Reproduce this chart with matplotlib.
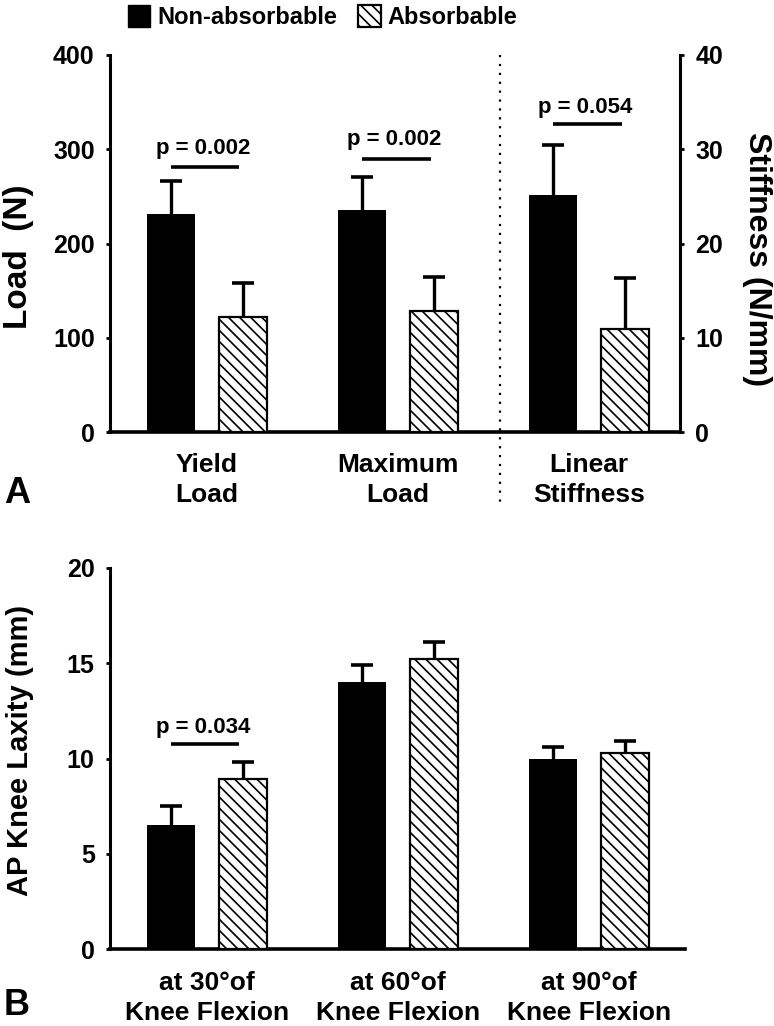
import numpy as np
import matplotlib
matplotlib.use("Agg")
import matplotlib.pyplot as plt
from matplotlib.patches import Patch

plt.rcParams['font.family'] = ['Liberation Sans', 'DejaVu Sans']
plt.rcParams['font.weight'] = 'bold'
plt.rcParams['hatch.linewidth'] = 1.2

# panel A: load (N) on left axis, stiffness (N/mm) on right axis
load_cats = ["Yield\nLoad", "Maximum\nLoad"]
load_nonabs = [231, 236]
load_nonabs_sd = [35, 35]
load_abs = [122, 128]
load_abs_sd = [36, 37]
load_p = ["p = 0.002", "p = 0.002"]
load_p_y = [281, 290]

stiff_cat = "Linear\nStiffness"
stiff_nonabs = 25.1
stiff_nonabs_sd = 5.4
stiff_abs = 10.9
stiff_abs_sd = 5.4
stiff_p = "p = 0.054"
stiff_p_y = 32.7

# panel B: AP knee laxity (mm)
lax_cats = ["at 30\u00b0of\nKnee Flexion", "at 60\u00b0of\nKnee Flexion",
            "at 90\u00b0of\nKnee Flexion"]
lax_nonabs = [6.5, 14.0, 10.0]
lax_nonabs_sd = [1.0, 0.9, 0.6]
lax_abs = [8.9, 15.2, 10.3]
lax_abs_sd = [0.9, 0.9, 0.6]
lax_p = "p = 0.034"
lax_p_y = 10.75

W = 0.25      # bar width
OFF = 0.19    # bar offset from group centre
HATCH = '\\\\\\'


def pair(ax, x, v1, e1, v2, e2):
    ax.bar(x - OFF, v1, W, color='black', edgecolor='black', linewidth=0, zorder=3)
    ax.bar(x + OFF, v2, W, color='white', edgecolor='black', linewidth=1.6,
           hatch=HATCH, zorder=3)
    xs = np.array([x - OFF, x + OFF], dtype=float)
    vs = np.array([v1, v2], dtype=float)
    es = np.array([e1, e2], dtype=float)
    eb = ax.errorbar(xs, vs, yerr=[np.zeros(2), es], fmt='none', ecolor='black',
                     elinewidth=2.4, capsize=8, capthick=2.6, zorder=2)
    # only the upper cap is drawn in the original
    eb[1][0].set_visible(False)


def pline(ax, x, y, text, dy):
    ax.plot([x - OFF, x + 0.17], [y, y], color='black', lw=2.6,
            solid_capstyle='butt', zorder=4)
    ax.text(x - 0.02, y + dy, text, ha='center', va='center', fontsize=16,
            fontweight='bold')


def style(ax):
    ax.spines['top'].set_visible(False)
    ax.spines['right'].set_visible(False)
    ax.spines['left'].set_linewidth(2.2)
    ax.spines['bottom'].set_linewidth(2.6)
    ax.tick_params(axis='y', direction='out', length=3, width=2,
                   labelsize=18, pad=8)
    ax.tick_params(axis='x', length=0, labelsize=19, pad=15)
    for lab in ax.get_xticklabels():
        lab.set_linespacing(1.3)


fig = plt.figure(figsize=(7.74, 10.26), dpi=100)

# ---- panel A ----
axA = fig.add_axes([0.1421, 0.5789, 0.7364, 0.3675])
axS = axA.twinx()
gA = np.arange(3)
for i in range(2):
    pair(axA, gA[i], load_nonabs[i], load_nonabs_sd[i], load_abs[i], load_abs_sd[i])
    pline(axA, gA[i], load_p_y[i], load_p[i], 20)
pair(axS, gA[2], stiff_nonabs, stiff_nonabs_sd, stiff_abs, stiff_abs_sd)
pline(axS, gA[2], stiff_p_y, stiff_p, 1.7)

axA.set_xlim(-0.508, 2.476)
axA.set_ylim(0, 400)
axA.set_yticks([0, 100, 200, 300, 400])
axS.set_ylim(0, 40)
axS.set_yticks([0, 10, 20, 30, 40])
axA.set_xticks(gA, load_cats + [stiff_cat])
style(axA)
axS.spines['top'].set_visible(False)
axS.spines['left'].set_visible(False)
axS.spines['bottom'].set_visible(False)
axS.spines['right'].set_linewidth(2.2)
axS.tick_params(axis='y', direction='out', length=3, width=2, labelsize=18, pad=8)
for lab in axA.get_xticklabels() + axA.get_yticklabels() + axS.get_yticklabels():
    lab.set_fontweight('bold')

axA.set_ylabel("Load  (N)", fontsize=24, fontweight='bold', va='center')
axA.yaxis.set_label_coords(-0.161, 0.464)
axS.set_ylabel("Stiffness (N/mm)", fontsize=23, fontweight='bold',
               rotation=270, va='center')
axS.yaxis.set_label_coords(1.135, 0.46)

# dotted separator between load and stiffness groups
axA.plot([1.534, 1.534], [1.0, -0.2], transform=axA.get_xaxis_transform(),
         color='black', lw=1.6, ls=(0, (1, 3)), clip_on=False, zorder=1)

# ---- panel B ----
axB = fig.add_axes([0.1421, 0.075, 0.743, 0.3714])
gB = np.arange(3)
for i in range(3):
    pair(axB, gB[i], lax_nonabs[i], lax_nonabs_sd[i], lax_abs[i], lax_abs_sd[i])
pline(axB, gB[0], lax_p_y, lax_p, 0.9)
axB.set_xlim(-0.508, 2.503)
axB.set_ylim(0, 20)
axB.set_yticks([0, 5, 10, 15, 20])
axB.set_xticks(gB, lax_cats)
style(axB)
axB.tick_params(axis='x', pad=16)
for lab in axB.get_xticklabels() + axB.get_yticklabels():
    lab.set_fontweight('bold')
axB.set_ylabel("AP Knee Laxity (mm)", fontsize=21, fontweight='bold', va='center')
axB.yaxis.set_label_coords(-0.156, 0.52)

# panel letters
fig.text(0.005, 1 - 503 / 1026, "A", fontsize=26, fontweight='bold', va='baseline')
fig.text(0.005, 1 - 1015 / 1026, "B", fontsize=26, fontweight='bold', va='baseline')

# legend
handles = [Patch(facecolor='black', edgecolor='black'),
           Patch(facecolor='white', edgecolor='black', hatch=HATCH, linewidth=1.6)]
fig.legend(handles, ["Non-absorbable", "Absorbable"], loc='upper left',
           bbox_to_anchor=(123 / 774, 1.0), ncol=2, frameon=False,
           fontsize=17, handlelength=0.95, handleheight=1.1, handletextpad=0.3,
           columnspacing=0.9, borderaxespad=0.1, borderpad=0.1)

fig.savefig("out.png", dpi=100)
